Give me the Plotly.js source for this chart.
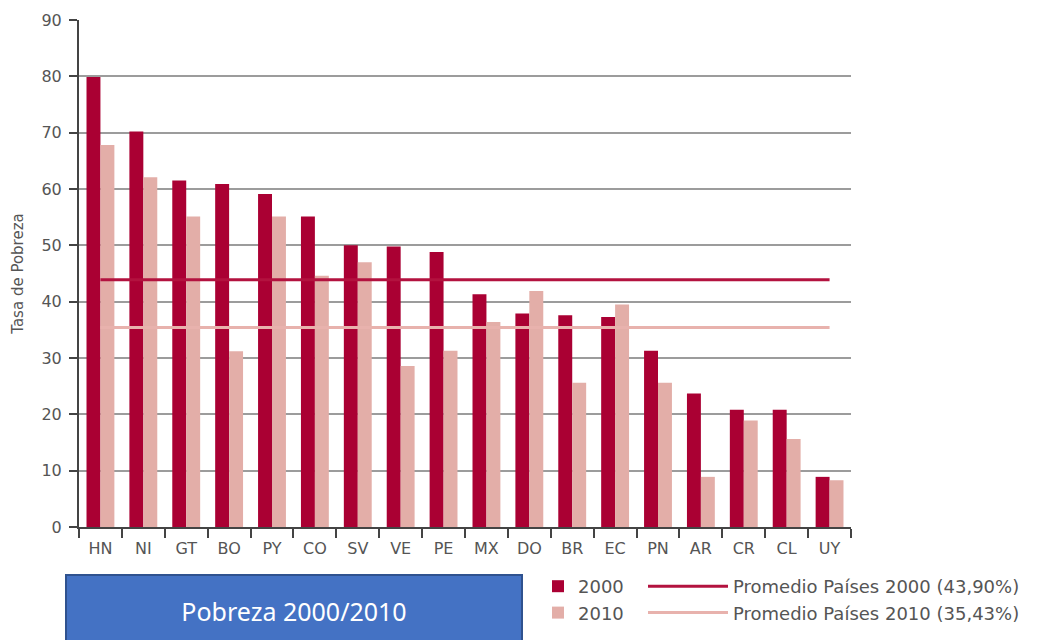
<!DOCTYPE html>
<html>
<head>
<meta charset="utf-8">
<script src="https://cdn.plot.ly/plotly-3.0.1.min.js"></script>
<style>
html,body{margin:0;padding:0;background:#fff;}
#chart{width:1063px;height:640px;}
</style>
</head>
<body>
<div id="chart"></div>
<script>
const countries = ['HN','NI','GT','BO','PY','CO','SV','VE','PE','MX','DO','BR','EC','PN','AR','CR','CL','UY'];
const pobreza2000 = [79.9, 70.2, 61.5, 60.9, 59.1, 55.1, 50.0, 49.8, 48.8, 41.3, 37.9, 37.6, 37.3, 31.3, 23.7, 20.8, 20.8, 8.9];
const pobreza2010 = [67.8, 62.1, 55.1, 31.2, 55.1, 44.6, 47.0, 28.6, 31.3, 36.4, 41.9, 25.6, 39.5, 25.6, 8.9, 18.9, 15.6, 8.3];
const promedio2000 = 43.90;
const promedio2010 = 35.43;
const yTicks = [0,10,20,30,40,50,60,70,80,90];
const titleText = 'Pobreza 2000/2010';
const yTitle = 'Tasa de Pobreza';

const dark = '#AA0033';
const light = '#E3AEA8';
const txt = '#555555';
const first = countries[0], last = countries[countries.length-1];

const traces = [
  {type:'bar', name:'2000', x:countries, y:pobreza2000, marker:{color:dark}, legend:'legend', hoverinfo:'x+y'},
  {type:'bar', name:'2010', x:countries, y:pobreza2010, marker:{color:light}, legend:'legend', hoverinfo:'x+y'},
  {type:'scatter', mode:'lines', name:'Promedio Países 2000 (43,90%)', x:[first,last], y:[promedio2000,promedio2000],
   line:{color:'#B3123F', width:3}, legend:'legend2'},
  {type:'scatter', mode:'lines', name:'Promedio Países 2010 (35,43%)', x:[first,last], y:[promedio2010,promedio2010],
   line:{color:'#E8B2AD', width:3}, legend:'legend2'}
];

const L = 79, T = 20, W = 772, H = 507;
const layout = {
  width:1063, height:640,
  margin:{l:L, r:1063-L-W, t:T, b:640-T-H, autoexpand:false},
  paper_bgcolor:'#fff', plot_bgcolor:'#fff',
  font:{family:'DejaVu Sans', color:txt, size:16},
  barmode:'group', bargap:0.35, bargroupgap:0,
  xaxis:{type:'category', range:[-0.5, countries.length-0.5], showgrid:false,
    showline:true, linecolor:'#444', linewidth:2,
    ticks:'outside', tickson:'boundaries', ticklen:9, tickwidth:2, tickcolor:'#444',
    ticklabelstandoff:6,
    tickfont:{family:'DejaVu Sans', size:16, color:txt}, fixedrange:true},
  yaxis:{range:[0,90], tickvals:yTicks, showgrid:true, gridcolor:'#9c9c9c', gridwidth:2,
    zeroline:false, showline:true, linecolor:'#444', linewidth:2,
    ticks:'outside', ticklen:8, tickwidth:2, tickcolor:'#444', ticklabelstandoff:4,
    tickfont:{family:'DejaVu Sans', size:16, color:txt},
    title:{text:yTitle, font:{family:'DejaVu Sans', size:15, color:txt}, standoff:14}},
  legend:{x:(538-L)/W, y:(T+H-568)/H, xanchor:'left', yanchor:'top', orientation:'v',
    font:{family:'DejaVu Sans', size:18, color:txt}, bgcolor:'rgba(0,0,0,0)', tracegroupgap:0},
  legend2:{x:(643-L)/W, y:(T+H-568)/H, xanchor:'left', yanchor:'top', orientation:'v', itemwidth:80,
    font:{family:'DejaVu Sans', size:18, color:txt}, bgcolor:'rgba(0,0,0,0)', tracegroupgap:0},
  annotations:[{xref:'paper', yref:'paper', x:(65-L)/W, y:(T+H-574)/H, xanchor:'left', yanchor:'top',
    text:titleText, showarrow:false, width:454, height:70, align:'center', valign:'middle',
    bgcolor:'#4472C4', bordercolor:'#2F528F', borderwidth:2, borderpad:0,
    font:{family:'Noto Sans', size:25, color:'#ffffff'}}],
  showlegend:true
};

Plotly.newPlot('chart', traces, layout, {displayModeBar:false, staticPlot:true});
</script>
</body>
</html>
